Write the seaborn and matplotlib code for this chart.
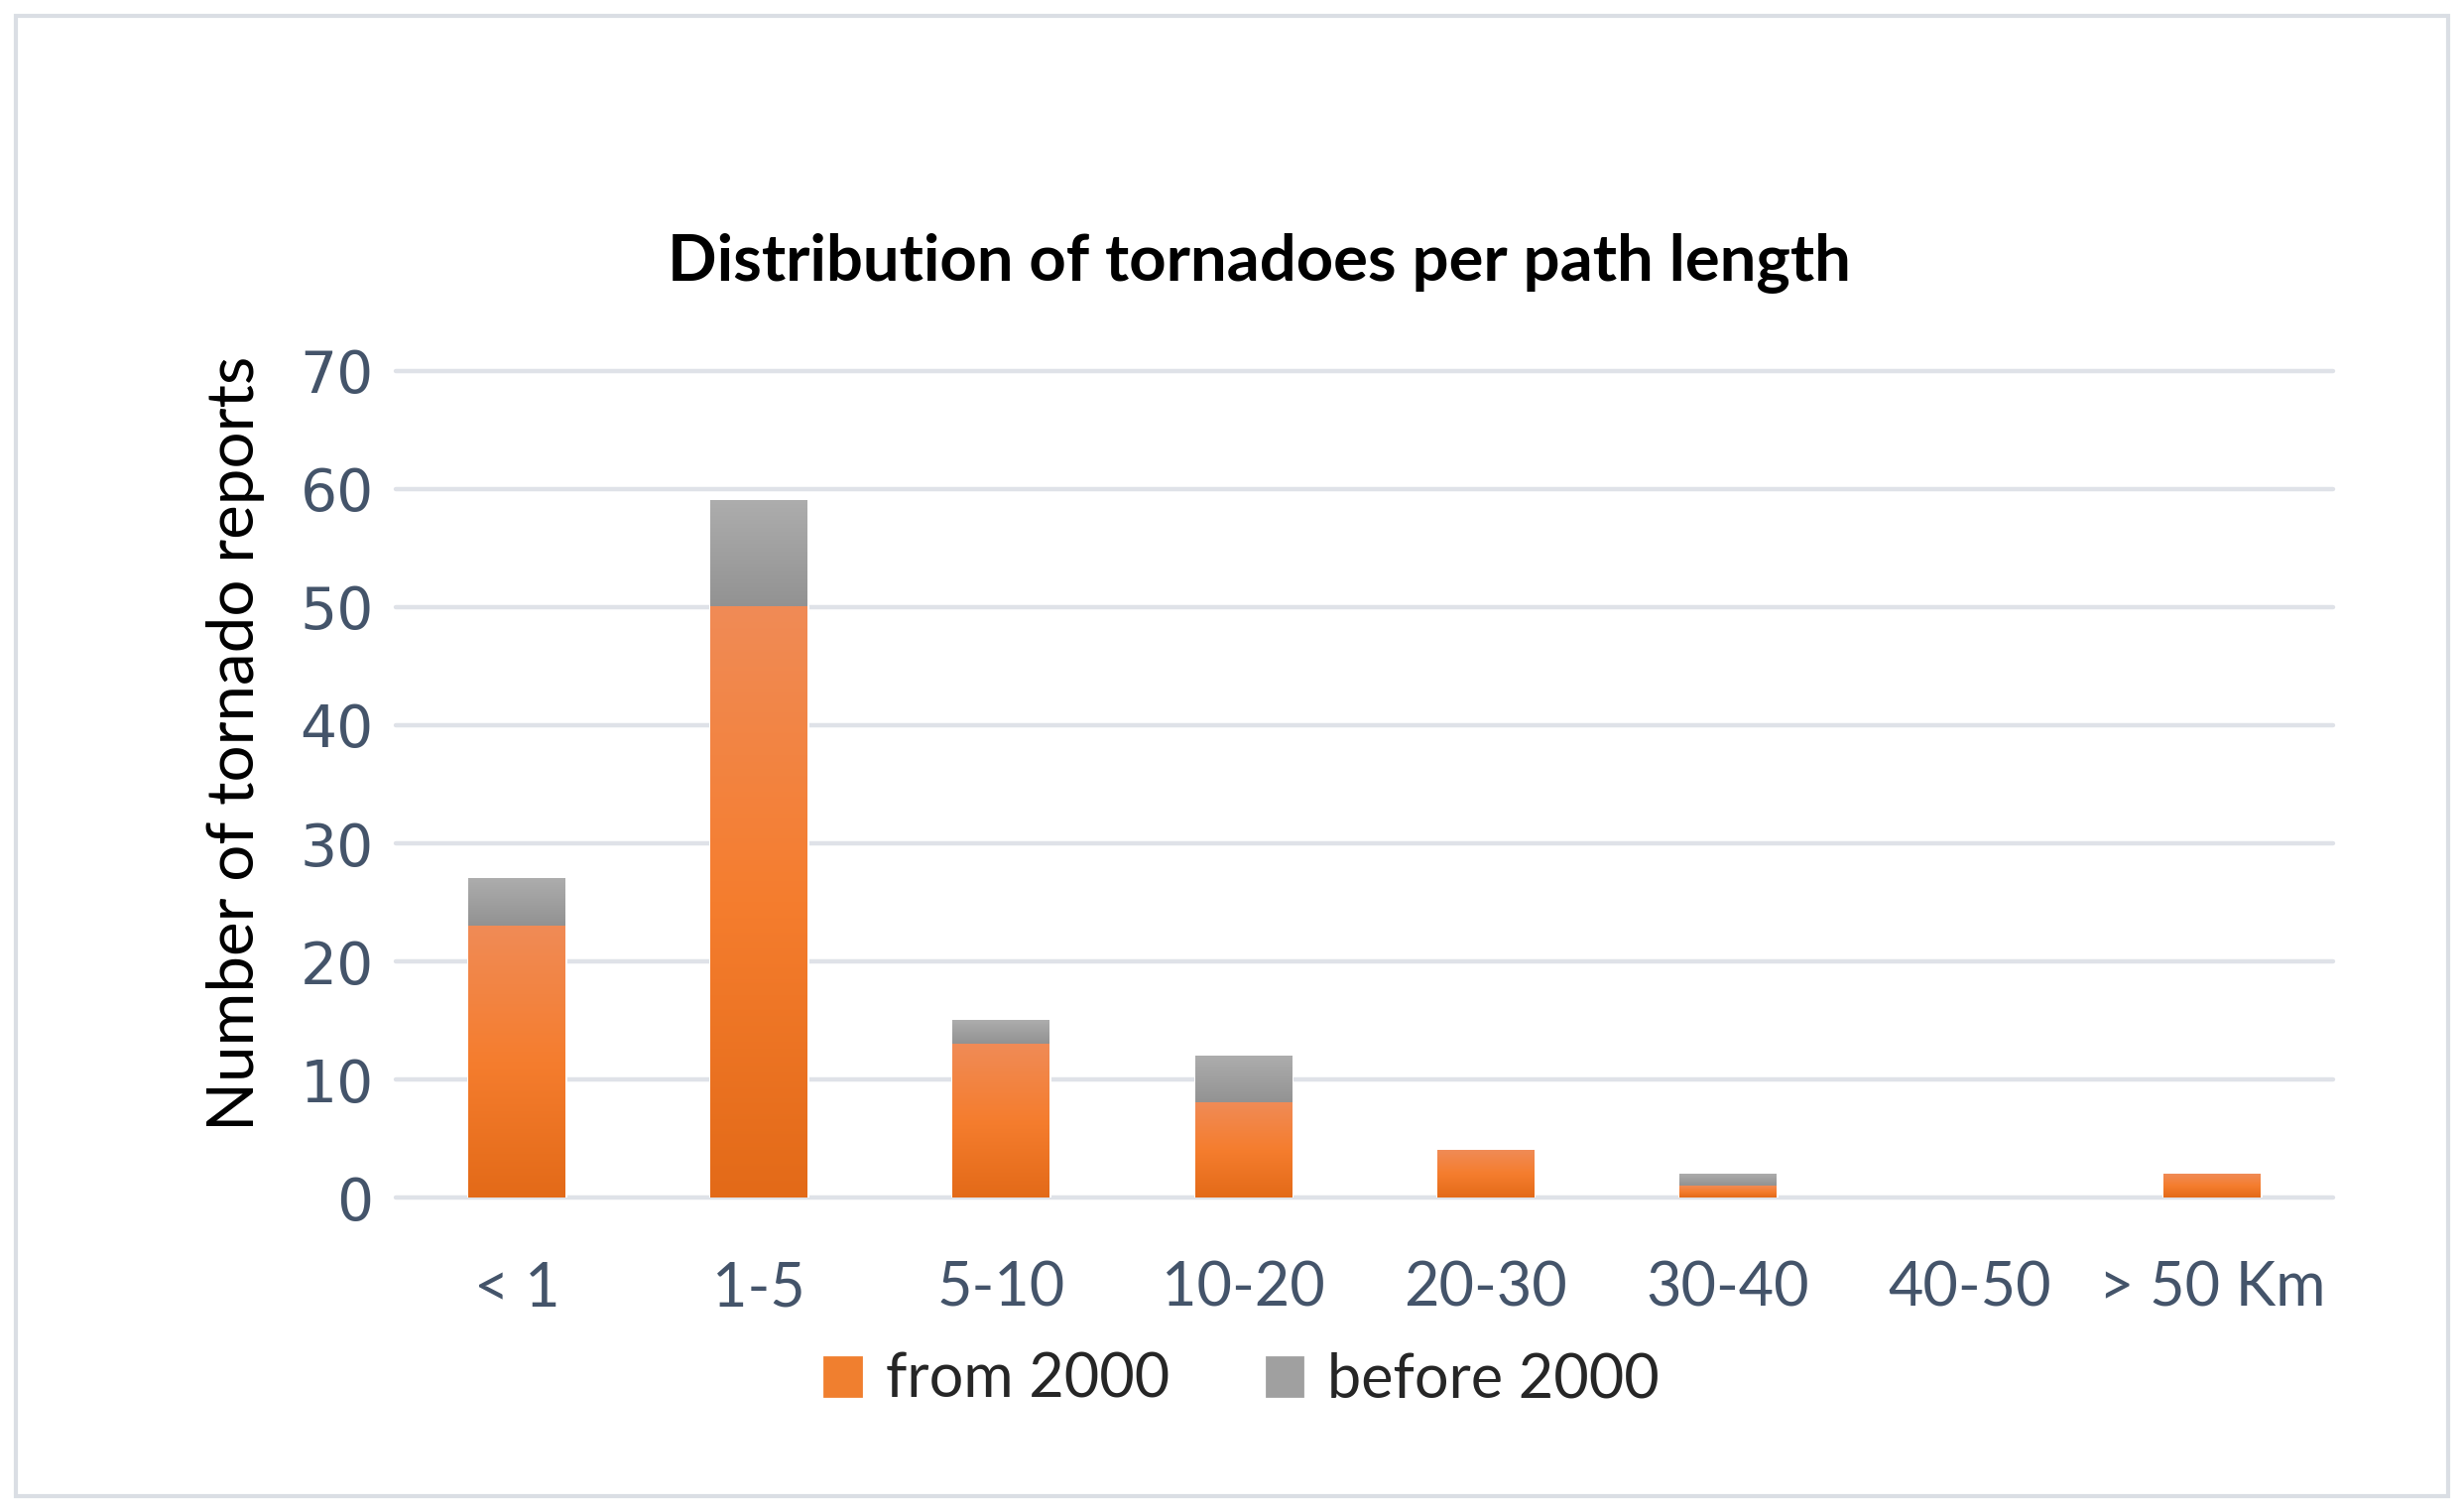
import numpy as np
import pandas as pd
import matplotlib.pyplot as plt
import matplotlib.patches as mpatches
from matplotlib.colors import LinearSegmentedColormap
import seaborn as sns

# data
categories = ['< 1', '1-5', '5-10', '10-20', '20-30', '30-40', '40-50', '> 50 Km']
from_2000 = [23, 50, 13, 8, 4, 1, 0, 2]
before_2000 = [4, 9, 2, 4, 0, 1, 0, 0]
y_ticks = [0, 10, 20, 30, 40, 50, 60, 70]

sns.set_theme(style='white')
plt.rcParams['font.family'] = ['Lato', 'DejaVu Sans']

df = pd.DataFrame({'length': categories, 'from_2000': from_2000, 'before_2000': before_2000})
df['total'] = df['from_2000'] + df['before_2000']

fig = plt.figure(figsize=(12.42, 7.62), dpi=200)
ax = fig.add_axes([0.1606, 0.208, 0.7863, 0.5466])

# stacked bars: total (grey) first, then the from-2000 part on top of it
sns.barplot(data=df, x='length', y='total', order=categories, color='#a0a0a0',
            width=0.4, saturation=1, ax=ax, zorder=2)
sns.barplot(data=df, x='length', y='from_2000', order=categories, color='#f07f2f',
            width=0.4, saturation=1, ax=ax, zorder=3)

orange_cmap = LinearSegmentedColormap.from_list('org', ['#e36a18', '#f57d2e', '#f08b56'])
grey_cmap = LinearSegmentedColormap.from_list('gry', ['#929292', '#adadad'])
grad = np.linspace(0, 1, 256).reshape(-1, 1)

n = len(categories)
grey_patches = ax.patches[:n]
orange_patches = ax.patches[n:2 * n]
for i, (gp, op) in enumerate(zip(grey_patches, orange_patches)):
    x0 = op.get_x()
    x1 = x0 + op.get_width()
    if from_2000[i] + before_2000[i] == 0:
        gp.set_visible(False)
        op.set_visible(False)
    if before_2000[i] > 0:
        ax.imshow(grad, cmap=grey_cmap, origin='lower', aspect='auto',
                  extent=[x0, x1, from_2000[i], from_2000[i] + before_2000[i]],
                  zorder=4, interpolation='bilinear')
    if from_2000[i] > 0:
        ax.imshow(grad, cmap=orange_cmap, origin='lower', aspect='auto',
                  extent=[x0, x1, 0, from_2000[i]],
                  zorder=4, interpolation='bilinear')

ax.set_xlim(-0.5, n - 0.5)
ax.set_ylim(0, 70)
ax.set_yticks(y_ticks)
ax.grid(axis='y', color='#dfe2e8', linewidth=1.6, zorder=0)
for gl in ax.get_ygridlines():
    gl.set_clip_on(False)
ax.set_axisbelow(True)
sns.despine(ax=ax, left=True, bottom=True)
ax.set_xlabel('')
ax.set_ylabel('')
ax.tick_params(axis='both', length=0, colors='#44546a')
ax.tick_params(axis='x', pad=23, labelsize=22)
ax.tick_params(axis='y', pad=8, labelsize=21)
for lab in ax.get_yticklabels():
    lab.set_family(['DejaVu Sans'])

fig.text(0.511, 0.8255, 'Distribution of tornadoes per path length',
         ha='center', va='center', fontsize=23.5, fontweight='bold', color='black')
fig.text(0.0955, 0.5085, 'Number of tornado reports', rotation=90,
         ha='center', va='center', fontsize=23.6, color='black')

handles = [mpatches.Patch(color='#f07f2f', label='from 2000'),
           mpatches.Patch(color='#a0a0a0', label='before 2000')]
fig.legend(handles=handles, loc='center', bbox_to_anchor=(0.504, 0.087), ncol=2,
           frameon=False, fontsize=22, handlelength=0.6, handleheight=0.6,
           handletextpad=0.4, columnspacing=1.6)

fig.patches.append(mpatches.Rectangle((0.0065, 0.0105), 0.987, 0.979,
                                      transform=fig.transFigure, fill=False,
                                      edgecolor='#dadee4', linewidth=1.5))

fig.savefig('out.png', dpi=200, facecolor='white')
